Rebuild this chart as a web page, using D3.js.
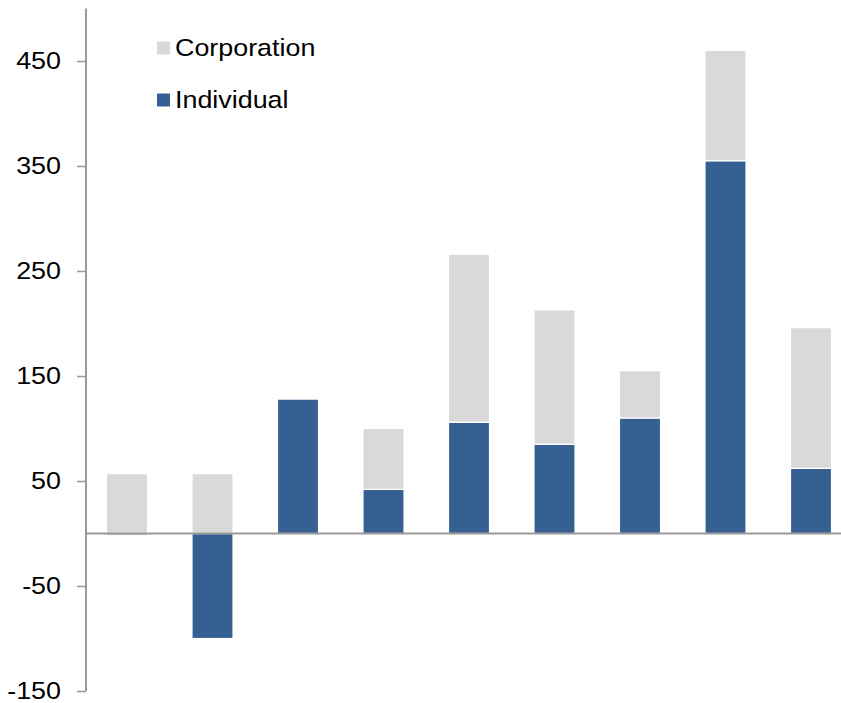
<!DOCTYPE html>
<html>
<head>
<meta charset="utf-8">
<script src="https://cdn.jsdelivr.net/npm/d3@7"></script>
<style>
  html, body { margin: 0; padding: 0; background: #fff; }
  svg { display: block; }
  text { font-family: Arial, "Liberation Sans", sans-serif; fill: #000; }
</style>
</head>
<body>
<svg id="chart" width="841" height="703"></svg>
<script>
// Categories (unlabelled periods) and the two stacked series
const categories = ["P1", "P2", "P3", "P4", "P5", "P6", "P7", "P8", "P9"];
const individual = [-1.5, -100, 128, 42, 106, 85, 110, 355, 62];
const corporation = [57, 57, 0, 58, 160, 128, 45, 105, 134];
const seriesNames = ["Individual", "Corporation"];
const tickValues = [-150, -50, 50, 150, 250, 350, 450];

const colors = { Individual: "#366092", Corporation: "#d9d9d9" };

const svg = d3.select("#chart");
const W = 841, H = 703;
const textStretch = 1.12;   // slightly wide lettering
const fontSize = 24;

const y = d3.scaleLinear().domain([-150, 500]).range([691, 8.5]);
const x = d3.scaleBand()
  .domain(categories)
  .range([84.25, 853.75])
  .paddingInner(0.52)
  .paddingOuter(0.26);

const rows = categories.map((c, i) => ({
  cat: c,
  Individual: individual[i],
  Corporation: corporation[i]
}));

const stacked = d3.stack()
  .keys(seriesNames)
  .offset(d3.stackOffsetDiverging)(rows);

// Bars
svg.append("g")
  .selectAll("g")
  .data(stacked)
  .join("g")
  .attr("fill", d => colors[d.key])
  .selectAll("rect")
  .data(d => d)
  .join("rect")
  .attr("x", d => x(d.data.cat))
  .attr("width", x.bandwidth())
  .attr("y", d => y(Math.max(d[0], d[1])))
  .attr("height", d => Math.abs(y(d[0]) - y(d[1])))
  .attr("stroke", "#fff")
  .attr("stroke-width", 1.2);

// Zero baseline
svg.append("line")
  .attr("x1", 85).attr("x2", W)
  .attr("y1", y(0)).attr("y2", y(0))
  .attr("stroke", "#999").attr("stroke-width", 2);

// Y axis (plain hyphen for negatives)
const axis = svg.append("g")
  .attr("transform", "translate(86,0)")
  .call(d3.axisLeft(y).tickValues(tickValues).tickSize(9).tickPadding(16).tickFormat(d => String(d)));
axis.select(".domain")
  .attr("d", `M0,${y(500)}V${y(-150)}`)
  .attr("stroke", "#999").attr("stroke-width", 2);
axis.selectAll(".tick line").attr("stroke", "#999").attr("stroke-width", 1.5);
axis.selectAll(".tick text")
  .attr("font-size", fontSize)
  .attr("font-family", "Arial, 'Liberation Sans', sans-serif")
  .attr("fill", "#000")
  .attr("x", -25 / textStretch)
  .attr("transform", `scale(${textStretch},1)`);

// Legend
const legendItems = ["Corporation", "Individual"];
const legend = svg.append("g").attr("transform", "translate(157,48)");
legendItems.forEach((name, i) => {
  const g = legend.append("g").attr("transform", `translate(0,${i * 52})`);
  g.append("rect")
    .attr("x", 0).attr("y", -6.5)
    .attr("width", 13).attr("height", 13)
    .attr("fill", colors[name]);
  g.append("text")
    .attr("transform", `translate(18,0) scale(${textStretch},1)`)
    .attr("dy", "0.35em")
    .attr("font-size", fontSize)
    .text(name);
});
</script>
</body>
</html>
